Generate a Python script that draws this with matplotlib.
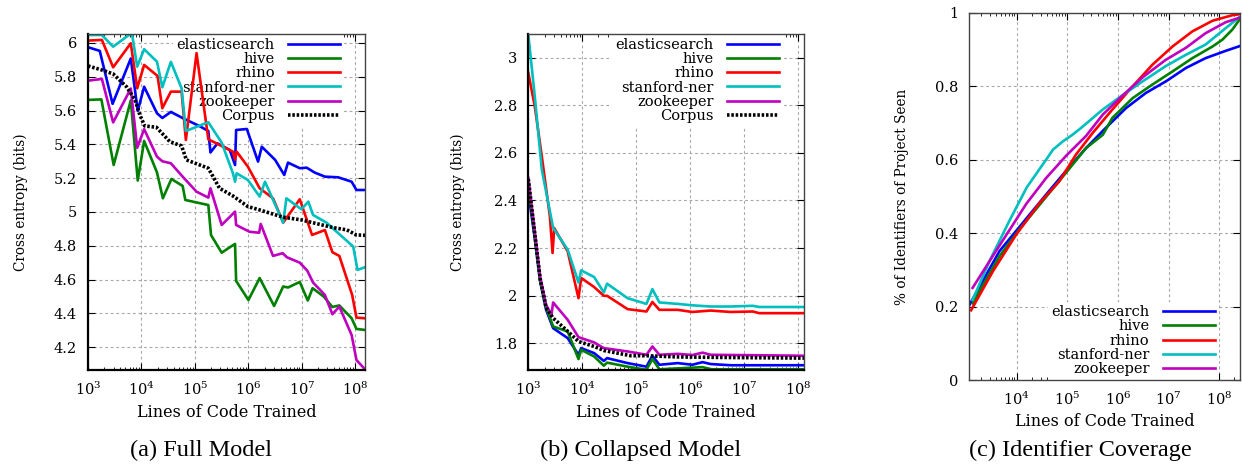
import numpy as np
import matplotlib
matplotlib.use("Agg")
import matplotlib.pyplot as plt
from matplotlib.ticker import FixedLocator, FuncFormatter, LogLocator, NullFormatter

# ---------------- data (x given as log10 of lines of code trained) ----------------
series_names = ["elasticsearch", "hive", "rhino", "stanford-ner", "zookeeper", "Corpus"]

# (a) Full Model
a_elastic_lx = [3.00, 3.22, 3.46, 3.80, 3.93, 4.05, 4.29, 4.39, 4.55, 4.78, 5.08, 5.25, 5.29, 5.42, 5.65, 5.75, 5.77, 5.97, 6.18, 6.25, 6.50, 6.67, 6.74, 6.96, 7.09, 7.24, 7.43, 7.68, 7.93, 8.02, 8.18]
a_elastic_y = [5.975, 5.953, 5.64, 5.908, 5.598, 5.741, 5.584, 5.556, 5.592, 5.554, 5.509, 5.479, 5.352, 5.406, 5.367, 5.278, 5.485, 5.491, 5.298, 5.386, 5.308, 5.219, 5.292, 5.259, 5.262, 5.233, 5.209, 5.205, 5.179, 5.130, 5.130]
a_hive_lx = [3.00, 3.25, 3.48, 3.80, 3.93, 4.05, 4.29, 4.40, 4.56, 4.77, 4.82, 5.25, 5.30, 5.50, 5.67, 5.75, 5.77, 6.00, 6.21, 6.48, 6.65, 6.74, 6.96, 7.11, 7.20, 7.41, 7.57, 7.70, 7.93, 8.02, 8.18]
a_hive_y = [5.663, 5.666, 5.278, 5.66, 5.186, 5.42, 5.234, 5.081, 5.195, 5.154, 5.071, 5.041, 4.864, 4.759, 4.795, 4.811, 4.592, 4.479, 4.609, 4.444, 4.559, 4.553, 4.586, 4.476, 4.549, 4.499, 4.438, 4.447, 4.371, 4.308, 4.302]
a_rhino_lx = [3.00, 3.26, 3.47, 3.80, 3.92, 4.05, 4.30, 4.39, 4.55, 4.75, 4.83, 5.03, 5.25, 5.71, 5.75, 5.78, 5.99, 6.21, 6.46, 6.65, 6.96, 7.19, 7.43, 7.57, 7.70, 7.94, 8.02, 8.18]
a_rhino_y = [6.014, 6.018, 5.856, 5.998, 5.732, 5.870, 5.805, 5.614, 5.712, 5.712, 5.426, 5.94, 5.43, 5.357, 5.31, 5.357, 5.268, 5.14, 5.081, 4.937, 5.075, 4.864, 4.893, 4.762, 4.740, 4.509, 4.375, 4.371]
a_stanford_lx = [3.00, 3.26, 3.47, 3.82, 3.92, 4.05, 4.29, 4.39, 4.55, 4.75, 4.83, 5.25, 5.50, 5.71, 5.75, 5.78, 5.99, 6.21, 6.31, 6.65, 6.71, 6.99, 7.12, 7.21, 7.46, 7.96, 8.04, 8.18]
a_stanford_y = [6.047, 6.047, 5.978, 6.06, 5.86, 5.963, 5.889, 5.738, 5.888, 5.732, 5.479, 5.531, 5.41, 5.229, 5.179, 5.229, 5.189, 5.091, 5.179, 4.937, 5.081, 5.016, 5.061, 4.982, 4.937, 4.795, 4.657, 4.673]
a_zoo_lx = [3.00, 3.26, 3.47, 3.80, 3.92, 4.05, 4.29, 4.39, 4.55, 4.77, 5.03, 5.25, 5.29, 5.50, 5.75, 5.77, 6.02, 6.20, 6.23, 6.46, 6.64, 6.72, 6.96, 7.10, 7.21, 7.43, 7.57, 7.70, 7.93, 8.02, 8.18]
a_zoo_y = [5.777, 5.787, 5.53, 5.73, 5.38, 5.49, 5.327, 5.30, 5.288, 5.209, 5.12, 5.085, 5.14, 4.923, 5.002, 4.923, 4.883, 4.877, 4.929, 4.740, 4.756, 4.732, 4.700, 4.653, 4.582, 4.509, 4.395, 4.440, 4.272, 4.124, 4.069]
a_corpus_lx = [3.00, 3.26, 3.47, 3.72, 3.88, 3.97, 4.06, 4.28, 4.53, 4.75, 4.84, 5.25, 5.46, 5.71, 5.99, 6.21, 6.65, 6.99, 7.59, 7.84, 8.02, 8.18]
a_corpus_y = [5.864, 5.840, 5.817, 5.741, 5.663, 5.574, 5.509, 5.501, 5.416, 5.391, 5.308, 5.259, 5.140, 5.095, 5.032, 5.012, 4.969, 4.953, 4.907, 4.894, 4.864, 4.862]

# (b) Collapsed Model
b_elastic_lx = [3.00, 3.12, 3.22, 3.33, 3.46, 3.73, 3.93, 3.98, 4.22, 4.40, 4.46, 4.84, 5.19, 5.30, 5.43, 5.77, 6.04, 6.23, 6.38, 6.75, 8.11]
b_elastic_y = [2.434, 2.24, 2.06, 1.94, 1.863, 1.821, 1.751, 1.779, 1.758, 1.725, 1.737, 1.716, 1.701, 1.747, 1.709, 1.716, 1.709, 1.720, 1.712, 1.707, 1.707]
b_hive_lx = [3.00, 3.12, 3.22, 3.33, 3.46, 3.73, 3.93, 3.98, 4.22, 4.40, 4.46, 4.84, 5.19, 5.30, 5.43, 6.23, 6.40, 8.11]
b_hive_y = [2.46, 2.25, 2.06, 1.95, 1.870, 1.849, 1.733, 1.772, 1.744, 1.705, 1.718, 1.701, 1.688, 1.733, 1.690, 1.699, 1.690, 1.690]
b_rhino_lx = [3.00, 3.12, 3.25, 3.40, 3.45, 3.48, 3.73, 3.93, 3.98, 4.22, 4.40, 4.46, 4.84, 5.19, 5.30, 5.43, 5.77, 6.04, 6.38, 6.75, 7.16, 7.28, 8.11]
b_rhino_y = [2.937, 2.796, 2.586, 2.333, 2.179, 2.284, 2.186, 1.989, 2.074, 2.036, 1.999, 1.999, 1.943, 1.933, 1.973, 1.940, 1.940, 1.931, 1.937, 1.931, 1.933, 1.926, 1.926]
b_stanford_lx = [3.00, 3.12, 3.25, 3.46, 3.73, 3.93, 3.98, 4.22, 4.40, 4.46, 4.84, 5.19, 5.30, 5.43, 5.77, 6.04, 6.38, 6.75, 7.16, 7.28, 8.11]
b_stanford_y = [3.098, 2.838, 2.530, 2.285, 2.193, 2.055, 2.106, 2.078, 2.013, 2.050, 1.989, 1.965, 2.027, 1.971, 1.965, 1.959, 1.954, 1.954, 1.957, 1.952, 1.952]
b_zoo_lx = [3.00, 3.12, 3.22, 3.33, 3.43, 3.46, 3.73, 3.93, 4.22, 4.40, 4.84, 5.19, 5.30, 5.43, 5.77, 6.04, 6.23, 6.38, 8.11]
b_zoo_y = [2.495, 2.27, 2.08, 1.96, 1.92, 1.971, 1.898, 1.825, 1.803, 1.779, 1.765, 1.751, 1.786, 1.751, 1.755, 1.750, 1.760, 1.751, 1.747]
b_corpus_lx = [3.00, 3.12, 3.22, 3.33, 3.46, 3.73, 3.93, 4.22, 4.40, 4.90, 5.19, 5.77, 6.50, 8.11]
b_corpus_y = [2.49, 2.26, 2.07, 1.95, 1.905, 1.85, 1.807, 1.786, 1.769, 1.747, 1.747, 1.742, 1.740, 1.737]

# (c) Identifier Coverage
c_elastic_lx = [3.07, 3.66, 4.12, 4.58, 4.97, 5.37, 5.76, 6.16, 6.55, 6.95, 7.34, 7.73, 8.13, 8.43]
c_elastic_y = [0.205, 0.351, 0.428, 0.505, 0.569, 0.632, 0.687, 0.741, 0.782, 0.814, 0.850, 0.877, 0.897, 0.911]
c_hive_lx = [3.13, 3.66, 4.05, 4.51, 4.97, 5.37, 5.70, 5.89, 6.29, 6.68, 7.08, 7.47, 7.87, 8.06, 8.26, 8.42]
c_hive_y = [0.209, 0.337, 0.410, 0.487, 0.564, 0.632, 0.668, 0.714, 0.768, 0.805, 0.841, 0.877, 0.909, 0.927, 0.955, 0.986]
c_rhino_lx = [3.10, 3.53, 3.99, 4.45, 4.84, 5.17, 5.50, 5.89, 6.29, 6.68, 7.08, 7.47, 7.87, 8.26, 8.42]
c_rhino_y = [0.19, 0.296, 0.396, 0.482, 0.541, 0.614, 0.673, 0.737, 0.800, 0.859, 0.909, 0.950, 0.979, 0.994, 0.997]
c_stanford_lx = [3.13, 3.46, 3.85, 4.20, 4.58, 4.72, 4.91, 5.10, 5.30, 5.70, 6.09, 6.49, 6.94, 7.34, 7.73, 8.13, 8.42]
c_stanford_y = [0.218, 0.323, 0.432, 0.525, 0.600, 0.628, 0.650, 0.668, 0.690, 0.737, 0.776, 0.814, 0.855, 0.886, 0.914, 0.959, 0.991]
c_zoo_lx = [3.13, 3.59, 4.19, 4.58, 4.97, 5.37, 5.70, 6.09, 6.49, 6.94, 7.34, 7.73, 8.13, 8.42]
c_zoo_y = [0.251, 0.351, 0.48, 0.55, 0.61, 0.665, 0.723, 0.775, 0.825, 0.872, 0.905, 0.945, 0.975, 0.988]

y_ticks_a = [4.2, 4.4, 4.6, 4.8, 5.0, 5.2, 5.4, 5.6, 5.8, 6.0]
y_ticks_b = [1.8, 2.0, 2.2, 2.4, 2.6, 2.8, 3.0]
y_ticks_c = [0, 0.2, 0.4, 0.6, 0.8, 1.0]
x_exps_ab = [3, 4, 5, 6, 7, 8]
x_exps_c = [4, 5, 6, 7, 8]

captions = ["(a) Full Model", "(b) Collapsed Model", "(c) Identifier Coverage"]
xlabel = "Lines of Code Trained"
ylabel_ab = "Cross entropy (bits)"
ylabel_c = "% of Identifiers of Project Seen"

# ---------------- style ----------------
colors = ["#0000ff", "#008000", "#ff0000", "#00bfbf", "#bf00bf", "#000000"]
plt.rcParams["font.family"] = ["DejaVu Serif"]
plt.rcParams["mathtext.fontset"] = "dejavuserif"
W, H = 1243, 466
fig = plt.figure(figsize=(W / 100, H / 100), dpi=100)


def ax_rect(l, r, t, b):
    return [l / W, 1 - b / H, (r - l) / W, (b - t) / H]


def fmt_num(v, pos):
    s = ("%.1f" % v)
    if s.endswith(".0"):
        s = s[:-2]
    return s


def style_axes(ax, yticks, xexps, xlim, ylim, dark_lb=True):
    ax.set_xscale("log")
    ax.set_xlim(*xlim)
    ax.set_ylim(*ylim)
    ax.xaxis.set_major_locator(FixedLocator([10.0 ** e for e in xexps]))
    ax.xaxis.set_major_formatter(FuncFormatter(lambda v, p: r"$10^{%d}$" % int(round(np.log10(v)))))
    ax.xaxis.set_minor_locator(LogLocator(base=10, subs=np.arange(2, 10), numticks=20))
    ax.xaxis.set_minor_formatter(NullFormatter())
    ax.yaxis.set_major_locator(FixedLocator(yticks))
    ax.yaxis.set_major_formatter(FuncFormatter(fmt_num))
    ax.set_axisbelow(True)
    ax.grid(True, which="major", color="#a8a8a8", linestyle=(0, (2.5, 2.5)), linewidth=0.8)
    ax.tick_params(which="both", direction="in", top=True, right=True, labelsize=10.5)
    ax.tick_params(which="major", length=5, width=0.8, pad=8)
    ax.tick_params(which="minor", length=2.5, width=0.6)
    for side, sp in ax.spines.items():
        sp.set_color("#444444")
        sp.set_linewidth(1.0)
    if dark_lb:
        ax.spines["left"].set_color("black")
        ax.spines["bottom"].set_color("black")
        ax.spines["left"].set_linewidth(1.6)
        ax.spines["bottom"].set_linewidth(1.6)


def add_legend(ax, loc, anchor):
    leg = ax.legend(loc=loc, bbox_to_anchor=anchor, markerfirst=False, fontsize=10.5,
                    frameon=True, fancybox=False, framealpha=1.0, facecolor="white",
                    edgecolor="none", borderpad=0.25, borderaxespad=0.0,
                    handlelength=3.6, handletextpad=0.9, labelspacing=0.02)
    leg.set_zorder(1.5)
    return leg


lw = 1.9
corpus_style = dict(color="black", linewidth=2.6, linestyle=(0, (0.7, 0.5)))
ylab_size = 9.8

# ---------------- panel (a) ----------------
ax_a = fig.add_axes(ax_rect(88, 365, 34, 370))
a_data = [(a_elastic_lx, a_elastic_y), (a_hive_lx, a_hive_y), (a_rhino_lx, a_rhino_y),
          (a_stanford_lx, a_stanford_y), (a_zoo_lx, a_zoo_y)]
for (lx, y), name, c in zip(a_data, series_names[:5], colors[:5]):
    ax_a.plot(10.0 ** np.array(lx), y, color=c, linewidth=lw, label=name, zorder=2)
ax_a.plot(10.0 ** np.array(a_corpus_lx), a_corpus_y, label="Corpus", zorder=2, **corpus_style)
style_axes(ax_a, y_ticks_a, x_exps_ab, (1e3, 10 ** 8.18), (4.065, 6.053))
add_legend(ax_a, "upper right", (0.924, 1.0))
ax_a.set_xlabel(xlabel, fontsize=11.5, va="center")
ax_a.xaxis.set_label_coords(0.5, -0.127)
ax_a.set_ylabel(ylabel_ab, fontsize=ylab_size, va="center")
ax_a.yaxis.set_label_coords(-0.243, 0.5)

# ---------------- panel (b) ----------------
ax_b = fig.add_axes(ax_rect(528.3, 804, 34, 370))
b_data = [(b_elastic_lx, b_elastic_y), (b_hive_lx, b_hive_y), (b_rhino_lx, b_rhino_y),
          (b_stanford_lx, b_stanford_y), (b_zoo_lx, b_zoo_y)]
for (lx, y), name, c in zip(b_data, series_names[:5], colors[:5]):
    ax_b.plot(10.0 ** np.array(lx), y, color=c, linewidth=lw, label=name, zorder=2)
ax_b.plot(10.0 ** np.array(b_corpus_lx), b_corpus_y, label="Corpus", zorder=2, **corpus_style)
style_axes(ax_b, y_ticks_b, x_exps_ab, (1e3, 10 ** 8.11), (1.687, 3.10))
add_legend(ax_b, "upper right", (0.924, 1.0))
ax_b.set_xlabel(xlabel, fontsize=11.5, va="center")
ax_b.xaxis.set_label_coords(0.5, -0.127)
ax_b.set_ylabel(ylabel_ab, fontsize=ylab_size, va="center")
ax_b.yaxis.set_label_coords(-0.255, 0.5)

# ---------------- panel (c) ----------------
ax_c = fig.add_axes(ax_rect(969.3, 1240, 13, 380))
c_data = [(c_elastic_lx, c_elastic_y), (c_hive_lx, c_hive_y), (c_rhino_lx, c_rhino_y),
          (c_stanford_lx, c_stanford_y), (c_zoo_lx, c_zoo_y)]
for (lx, y), name, c in zip(c_data, series_names[:5], colors[:5]):
    ax_c.plot(10.0 ** np.array(lx), y, color=c, linewidth=lw, label=name, zorder=2)
style_axes(ax_c, y_ticks_c, x_exps_c, (10 ** 3.065, 10 ** 8.41), (0, 1), dark_lb=False)
add_legend(ax_c, "lower right", (0.922, 0.0))
ax_c.set_xlabel(xlabel, fontsize=11.5, va="center")
ax_c.xaxis.set_label_coords(0.5, -0.114)
ax_c.set_ylabel(ylabel_c, fontsize=ylab_size, va="center")
ax_c.yaxis.set_label_coords(-0.25, 0.5)

# ---------------- captions ----------------
for x, cap in zip([201, 641, 1080], captions):
    fig.text(x / W, 1 - 450 / H, cap, ha="center", va="center", fontsize=17.5,
             family=["Liberation Serif", "DejaVu Serif"])

fig.savefig("out.png", dpi=100)
